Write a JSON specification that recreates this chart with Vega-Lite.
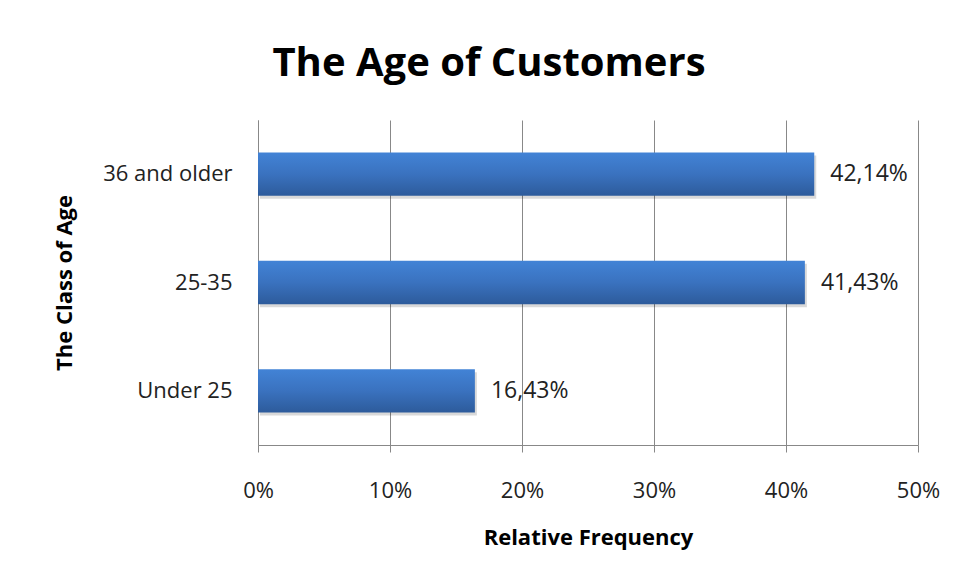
{
  "$schema": "https://vega.github.io/schema/vega-lite/v6.json",
  "autosize": {"type": "none"},
  "width": 660,
  "height": 325,
  "padding": {"left": 258, "top": 120, "right": 44, "bottom": 140},
  "background": "white",
  "title": {
    "text": "The Age of Customers",
    "font": "Open Sans",
    "fontSize": 40,
    "fontWeight": "bold",
    "color": "#000000",
    "anchor": "middle",
    "dx": -99,
    "offset": 36
  },
  "data": {
    "values": [
      {"age": "36 and older", "freq": 0.4214},
      {"age": "25-35", "freq": 0.4143},
      {"age": "Under 25", "freq": 0.1643}
    ]
  },
  "encoding": {
    "y": {
      "field": "age",
      "type": "nominal",
      "sort": ["36 and older", "25-35", "Under 25"],
      "scale": {"paddingInner": 0.6, "paddingOuter": 0.3},
      "axis": {
        "title": "The Class of Age",
        "ticks": false,
        "labelPadding": 26,
        "titlePadding": 26,
        "domainColor": "#888888",
        "labelFont": "Open Sans",
        "labelFontSize": 22,
        "labelColor": "#222222",
        "titleFont": "Open Sans",
        "titleFontSize": 22,
        "titleFontWeight": "bold",
        "titleColor": "#000000",
        "grid": false
      }
    },
    "x": {
      "field": "freq",
      "type": "quantitative",
      "scale": {"domain": [0, 0.5], "nice": false},
      "axis": {
        "title": "Relative Frequency",
        "format": ".0%",
        "values": [0, 0.1, 0.2, 0.3, 0.4, 0.5],
        "labelFlush": false,
        "grid": true,
        "gridColor": "#888888",
        "gridOpacity": 1,
        "domainColor": "#888888",
        "tickColor": "#888888",
        "tickSize": 7,
        "labelPadding": 28,
        "titlePadding": 26,
        "labelFont": "Open Sans",
        "labelFontSize": 22,
        "labelColor": "#222222",
        "titleFont": "Open Sans",
        "titleFontSize": 22,
        "titleFontWeight": "bold",
        "titleColor": "#000000"
      }
    }
  },
  "layer": [
    {
      "mark": {
        "type": "bar",
        "color": "#000000",
        "opacity": 0.15,
        "xOffset": 2,
        "yOffset": 3
      }
    },
    {
      "mark": {
        "type": "bar",
        "color": {
          "gradient": "linear",
          "x1": 0, "y1": 0, "x2": 0, "y2": 1,
          "stops": [
            {"offset": 0, "color": "#4283d6"},
            {"offset": 0.5, "color": "#3a72bf"},
            {"offset": 1, "color": "#2d5b9b"}
          ]
        }
      }
    },
    {
      "mark": {
        "type": "text",
        "align": "left",
        "dx": 16,
        "font": "Open Sans",
        "fontSize": 23,
        "color": "#222222"
      },
      "encoding": {
        "text": {"field": "freq", "type": "quantitative", "format": ".2%"}
      }
    }
  ],
  "config": {
    "view": {"stroke": null},
    "locale": {
      "number": {
        "decimal": ",",
        "thousands": ".",
        "grouping": [3],
        "currency": ["", " €"]
      }
    }
  }
}
